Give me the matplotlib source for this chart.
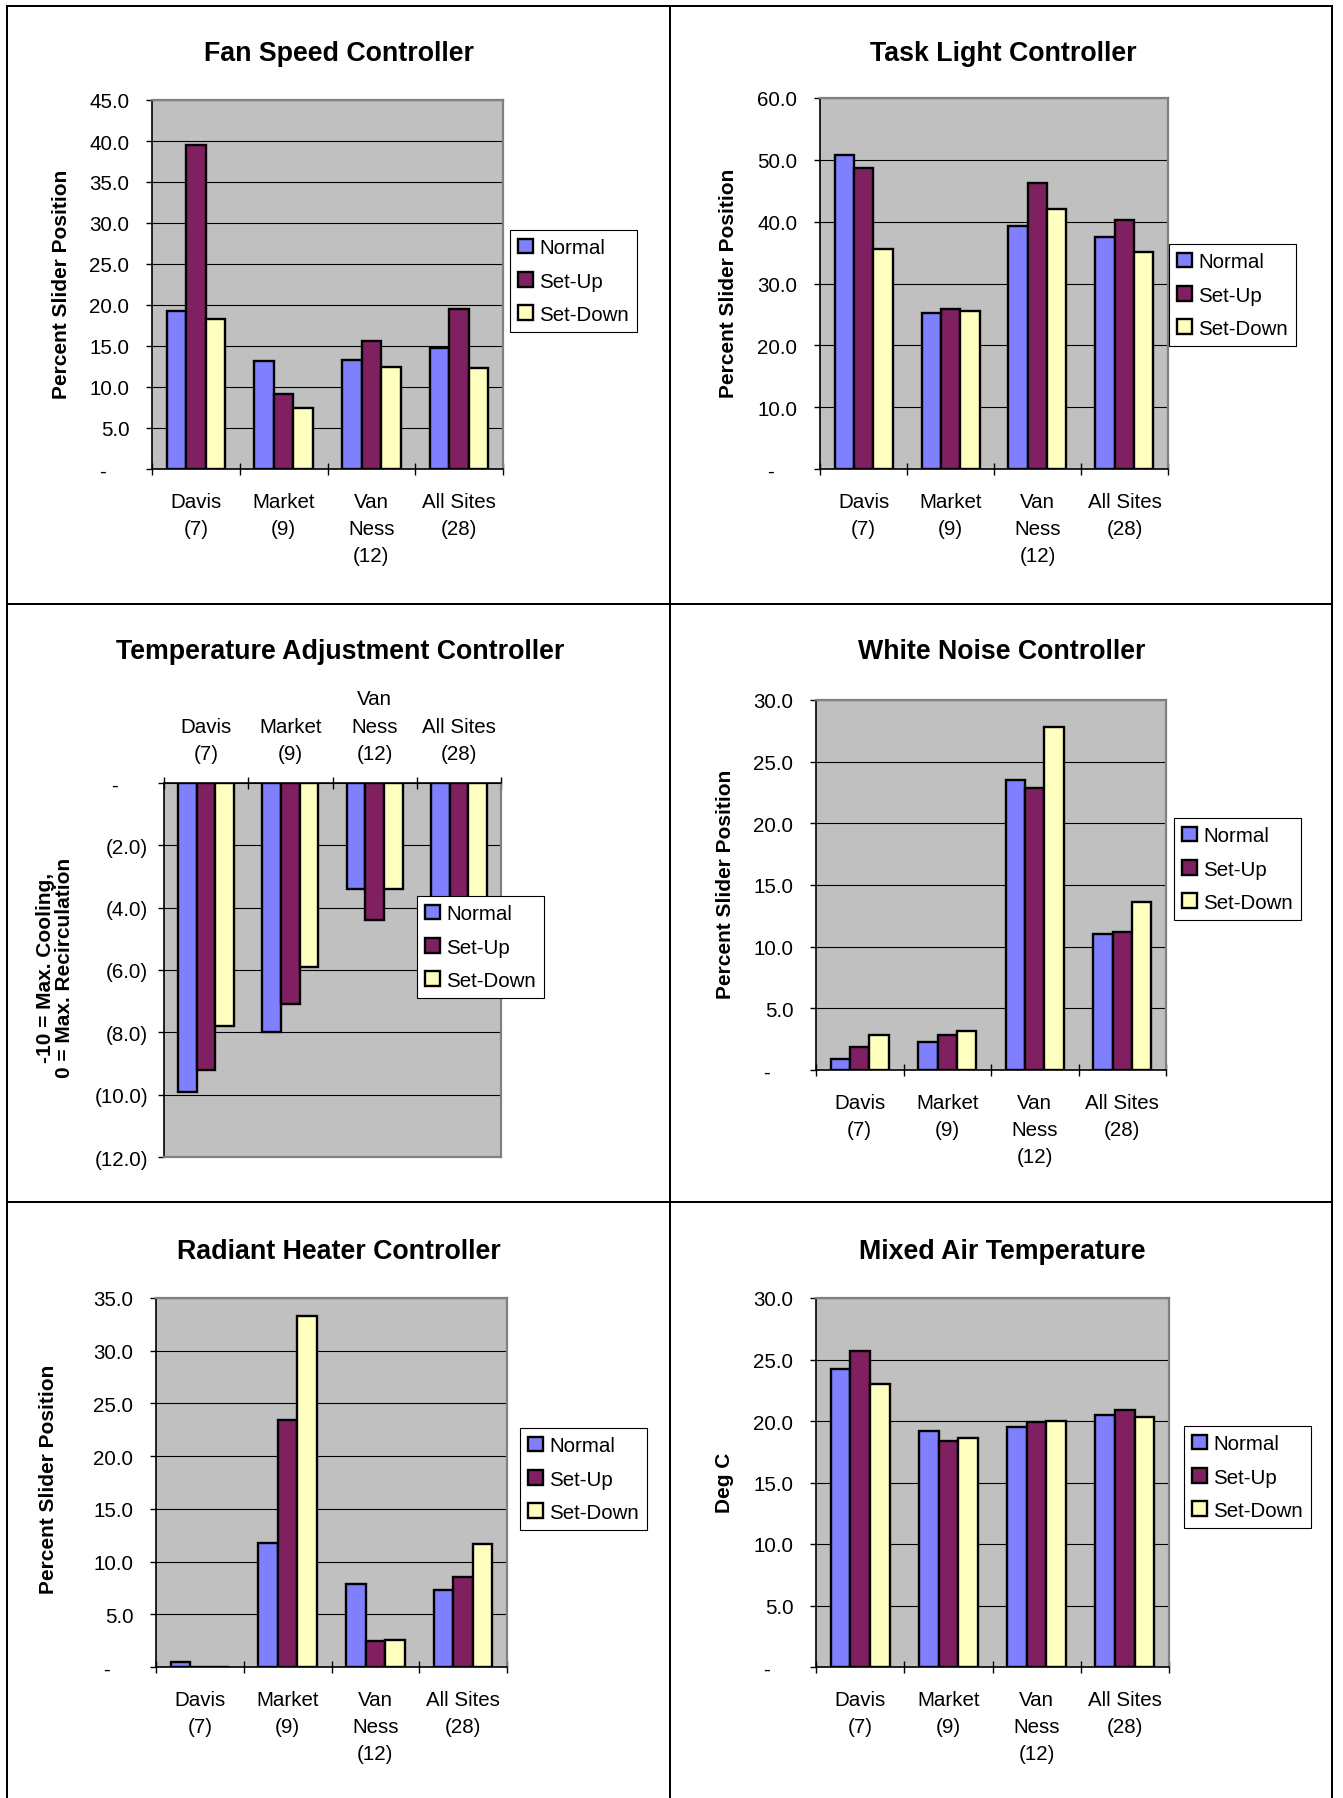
import matplotlib
matplotlib.use("Agg")
import matplotlib.pyplot as plt
import numpy as np

W, H = 1343, 1799
DPI = 100
PT = 72 / DPI  # points per pixel

plt.rcParams["font.family"] = ["Liberation Sans", "DejaVu Sans"]

# ---- data -------------------------------------------------------------
sites = ["Davis\n(7)", "Market\n(9)", "Van\nNess\n(12)", "All Sites\n(28)"]
series_names = ["Normal", "Set-Up", "Set-Down"]
series_colors = ["#8080FF", "#802060", "#FFFFC0"]

fan_normal = [19.3, 13.2, 13.3, 14.8]
fan_setup = [39.5, 9.2, 15.6, 19.5]
fan_setdown = [18.3, 7.4, 12.5, 12.3]
fan_ticks = [0, 5, 10, 15, 20, 25, 30, 35, 40, 45]

task_normal = [50.8, 25.2, 39.3, 37.6]
task_setup = [48.6, 25.8, 46.3, 40.2]
task_setdown = [35.5, 25.5, 42.1, 35.1]
task_ticks = [0, 10, 20, 30, 40, 50, 60]

temp_normal = [-9.9, -8.0, -3.4, -6.5]
temp_setup = [-9.2, -7.1, -4.4, -6.5]
temp_setdown = [-7.8, -5.9, -3.4, -5.3]
temp_ticks = [0, -2, -4, -6, -8, -10, -12]

noise_normal = [0.9, 2.3, 23.5, 11.0]
noise_setup = [1.9, 2.8, 22.9, 11.2]
noise_setdown = [2.8, 3.2, 27.8, 13.6]
noise_ticks = [0, 5, 10, 15, 20, 25, 30]

heater_normal = [0.5, 11.8, 7.9, 7.3]
heater_setup = [0.0, 23.4, 2.5, 8.5]
heater_setdown = [0.0, 33.3, 2.6, 11.7]
heater_ticks = [0, 5, 10, 15, 20, 25, 30, 35]

mixed_normal = [24.2, 19.2, 19.5, 20.5]
mixed_setup = [25.7, 18.4, 19.9, 20.9]
mixed_setdown = [23.0, 18.6, 20.0, 20.3]
mixed_ticks = [0, 5, 10, 15, 20, 25, 30]

# ---- helpers ------------------------------------------------------------
fig = plt.figure(figsize=(W / DPI, H / DPI), dpi=DPI)
fig.patch.set_facecolor("white")

TICK_FS = 14.8
TITLE_FS = 19.3
LABEL_FS = 15


def fx(x):
    return x / W


def fy(y):
    return 1 - y / H


def add_axes_px(l, t, r, b):
    return fig.add_axes([fx(l), fy(b), (r - l) / W, (b - t) / H])


def value_label(v):
    if abs(v) < 1e-9:
        return ""
    if v < 0:
        return f"({-v:.1f})"
    return f"{v:.1f}"


def draw_panel(box, title, title_pos, ylabel, ylabel_pos, series, ticks,
               legend_pos, hanging=False):
    l, t, r, b = box
    ax = add_axes_px(l, t, r, b)
    ax.set_facecolor("#C0C0C0")

    x = np.arange(len(sites))
    w = 1 / 4.5
    for i, (vals, c, name) in enumerate(zip(series, series_colors, series_names)):
        ax.bar(x + (i - 1) * w, vals, w, color=c, edgecolor="black",
               linewidth=1.7, label=name, zorder=3)

    ax.set_xlim(-0.5, len(sites) - 0.5)
    ax.set_ylim(min(ticks), max(ticks))
    ax.set_yticks(ticks)
    ax.set_yticklabels([value_label(v) for v in ticks])
    ax.yaxis.grid(True, color="black", linewidth=0.8)
    ax.set_axisbelow(True)

    # category boundaries carry the tick marks, centres carry the names
    ax.set_xticks(np.arange(len(sites) + 1) - 0.5)
    ax.set_xticklabels([])
    ax.set_xticks(x, minor=True)
    ax.set_xticklabels(sites, minor=True, linespacing=1.55)
    ax.tick_params(axis="x", which="major", direction="inout",
                   length=12 * PT, width=1.0)
    ax.tick_params(axis="x", which="minor", length=0, labelsize=TICK_FS,
                   pad=14.4 if hanging else 16.5)
    ax.tick_params(axis="y", direction="out", length=6 * PT, width=1.0,
                   labelsize=TICK_FS, pad=7.2 if hanging else 11.9)

    if hanging:
        ax.xaxis.tick_top()
        ax.tick_params(axis="x", which="both", top=True, bottom=False,
                       labeltop=True, labelbottom=False)
        axis_sp, plain = ["top", "left"], ["bottom", "right"]
    else:
        axis_sp, plain = ["bottom", "left"], ["top", "right"]
    for s in axis_sp:
        ax.spines[s].set_color("black")
        ax.spines[s].set_linewidth(1.2)
    for s in plain:
        ax.spines[s].set_color("#808080")
        ax.spines[s].set_linewidth(1.6)

    # zero is written as a dash, set in from the number column
    ax.annotate("-", xy=(0, 0), xycoords=("axes fraction", "data"),
                xytext=(-46.5 * PT, 0), textcoords="offset points",
                ha="right", va="center_baseline", fontsize=TICK_FS)

    fig.text(fx(title_pos[0]), fy(title_pos[1]), title, ha="center",
             va="baseline", fontsize=TITLE_FS, fontweight="bold")
    fig.text(fx(ylabel_pos[0]), fy(ylabel_pos[1]), ylabel, rotation=90,
             ha="center", va="center", fontsize=LABEL_FS, fontweight="bold",
             multialignment="center", linespacing=1.05)

    leg = ax.legend(loc="upper left",
                    bbox_to_anchor=(fx(legend_pos[0]), fy(legend_pos[1])),
                    bbox_transform=fig.transFigure, borderaxespad=0,
                    frameon=True, fancybox=False, shadow=False, framealpha=1,
                    edgecolor="black", fontsize=TICK_FS, handlelength=0.72,
                    handleheight=0.72, handletextpad=0.3, labelspacing=0.7,
                    borderpad=0.4)
    leg.get_frame().set_linewidth(0.8)
    return ax


# ---- panels -----------------------------------------------------------
draw_panel((152, 101, 503, 470), "Fan Speed Controller", (339, 61),
           "Percent Slider Position", (61.5, 284),
           [fan_normal, fan_setup, fan_setdown], fan_ticks, (510, 231))

draw_panel((820, 99, 1168, 470), "Task Light Controller", (1003, 61),
           "Percent Slider Position", (728.5, 283),
           [task_normal, task_setup, task_setdown], task_ticks, (1169, 245))

draw_panel((164, 784, 501, 1158), "Temperature Adjustment Controller", (340, 659),
           "-10 = Max. Cooling,\n0 = Max. Recirculation", (55, 968),
           [temp_normal, temp_setup, temp_setdown], temp_ticks, (417, 897),
           hanging=True)

draw_panel((816, 701, 1166, 1071), "White Noise Controller", (1002, 659),
           "Percent Slider Position", (725.5, 884),
           [noise_normal, noise_setup, noise_setdown], noise_ticks, (1174, 819))

draw_panel((156, 1299, 507, 1668), "Radiant Heater Controller", (339, 1259),
           "Percent Slider Position", (49, 1479),
           [heater_normal, heater_setup, heater_setdown], heater_ticks, (520, 1429))

draw_panel((816, 1299, 1169, 1668), "Mixed Air Temperature", (1002, 1259),
           "Deg C", (724, 1483),
           [mixed_normal, mixed_setup, mixed_setdown], mixed_ticks, (1184, 1427))

# ---- table rules around the six panels -----------------------------------
rule = dict(color="black", linewidth=2 * PT, transform=fig.transFigure)
for xv in (7, 670, 1332):
    fig.add_artist(plt.Line2D([fx(xv), fx(xv)], [fy(7), 0], **rule))
for yv in (7, 605, 1203):
    fig.add_artist(plt.Line2D([fx(7), fx(1332)], [fy(yv), fy(yv)], **rule))

fig.savefig("out.png", dpi=DPI)
